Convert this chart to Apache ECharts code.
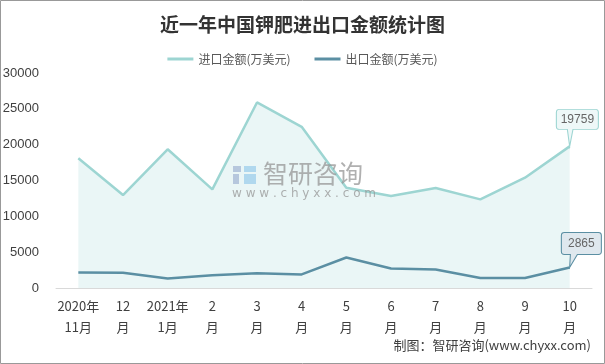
<!DOCTYPE html>
<html><head><meta charset="utf-8">
<script src="https://cdn.jsdelivr.net/npm/echarts@6/dist/echarts.min.js"></script>
<style>html,body{margin:0;padding:0;background:#fff}#c{width:605px;height:364px}</style>
</head><body><div id="c"></div>
<script>
var categories = ['2020年\n11月','12\n月','2021年\n1月','2\n月','3\n月','4\n月','5\n月','6\n月','7\n月','8\n月','9\n月','10\n月'];
var importValues = [18100, 12970, 19360, 13770, 25890, 22490, 13990, 12830, 13950, 12370, 15390, 19759];
var exportValues = [2150, 2130, 1310, 1780, 2050, 1900, 4250, 2710, 2570, 1400, 1400, 2865];
var seriesNames = ['进口金额(万美元)', '出口金额(万美元)'];
var yTicks = {min: 0, max: 30000, interval: 5000};

var chart = echarts.init(document.getElementById('c'));
var calloutA = 'path://M3,0 L39,0 Q42,0 42,3 L42,17 Q42,20 39,20 L16.6,20 L13.3,37 L11,20 L3,20 Q0,20 0,17 L0,3 Q0,0 3,0 Z';
var calloutB = 'path://M3,0 L37,0 Q40,0 40,3 L40,19 Q40,22 37,22 L16,22 L8.3,35 L9,22 L3,22 Q0,22 0,19 L0,3 Q0,0 3,0 Z';
var last = categories.length - 1;
chart.setOption({
  animation: false,
  title: {
    text: '近一年中国钾肥进出口金额统计图', left: 'center', top: 10,
    textStyle: {fontFamily: 'Noto Sans CJK SC', fontSize: 19, fontWeight: 'bold', color: '#333'}
  },
  legend: {
    top: 48, left: 'center', itemWidth: 26, itemHeight: 3, itemGap: 24,
    icon: 'rect',
    textStyle: {fontFamily: 'Noto Sans CJK SC', fontSize: 12, color: '#595959'},
    data: seriesNames
  },
  grid: {left: 56, right: 13, top: 73, bottom: 76, outerBoundsMode: 'none', containLabel: false},
  xAxis: {
    type: 'category', data: categories, boundaryGap: true,
    axisLine: {lineStyle: {color: '#d9d9d9', width: 1}},
    axisTick: {show: false},
    axisLabel: {interval: 0, color: '#404040', fontSize: 13, lineHeight: 21, margin: 8, fontFamily: 'Noto Sans CJK SC'}
  },
  yAxis: {
    type: 'value', min: yTicks.min, max: yTicks.max, interval: yTicks.interval,
    axisLine: {show: false}, axisTick: {show: false}, splitLine: {show: false},
    axisLabel: {color: '#404040', fontSize: 13, margin: 17, fontFamily: 'Liberation Sans', formatter: function (v) { return String(v); }}
  },
  graphic: [
    {type: 'rect', silent: true, z: 100, shape: {x: 0.5, y: 0.5, width: 604, height: 363}, style: {fill: 'none', stroke: '#999', lineWidth: 1}},
    {type: 'rect', z: 50, shape: {x: 233, y: 166, width: 8, height: 6}, style: {fill: '#b6c7dd'}},
    {type: 'rect', z: 50, shape: {x: 233, y: 174, width: 6, height: 10}, style: {fill: '#b6c7dd'}},
    {type: 'rect', z: 50, shape: {x: 244, y: 166, width: 12, height: 6}, style: {fill: '#b0d8ee'}},
    {type: 'rect', z: 50, shape: {x: 244, y: 174, width: 12, height: 10}, style: {fill: '#b0d8ee'}},
    {type: 'text', z: 50, left: 263, top: 161, style: {text: '智研咨询', font: '25px "Noto Sans CJK SC"', fill: 'rgba(150,150,150,0.75)'}},
    {type: 'text', z: 50, left: 232, top: 188, style: {text: 'w w w . c h y x x . c o m', font: '12px "DejaVu Sans"', fill: 'rgba(150,150,150,0.75)'}},
    {type: 'text', right: 14, top: 339, style: {text: '制图：智研咨询(www.chyxx.com)', font: '13px "Noto Sans CJK SC"', fill: '#404040'}}
  ],
  series: [
    {
      name: seriesNames[0], type: 'line', data: importValues, symbol: 'none',
      lineStyle: {color: '#9dd5d2', width: 2.5}, itemStyle: {color: '#9dd5d2'},
      areaStyle: {color: '#eaf6f6', opacity: 1},
      markPoint: {
        symbol: calloutA, symbolSize: [42, 37], symbolOffset: [7.7, -18.5],
        itemStyle: {color: '#eef8f8', borderColor: '#9dd5d2', borderWidth: 1},
        label: {show: true, color: '#666', fontSize: 12, offset: [0, -8.5], fontFamily: 'Liberation Sans'},
        data: [{coord: [last, importValues[last]], value: importValues[last]}]
      }
    },
    {
      name: seriesNames[1], type: 'line', data: exportValues, symbol: 'none',
      lineStyle: {color: '#5b8fa3', width: 2.5}, itemStyle: {color: '#5b8fa3'},
      markPoint: {
        symbol: calloutB, symbolSize: [40, 35], symbolOffset: [11.7, -17.5],
        itemStyle: {color: '#dfe8ee', borderColor: '#5b8fa3', borderWidth: 1},
        label: {show: true, color: '#666', fontSize: 12, offset: [0, -6.5], fontFamily: 'Liberation Sans'},
        data: [{coord: [last, exportValues[last]], value: exportValues[last]}]
      }
    }
  ]
});
</script></body></html>
